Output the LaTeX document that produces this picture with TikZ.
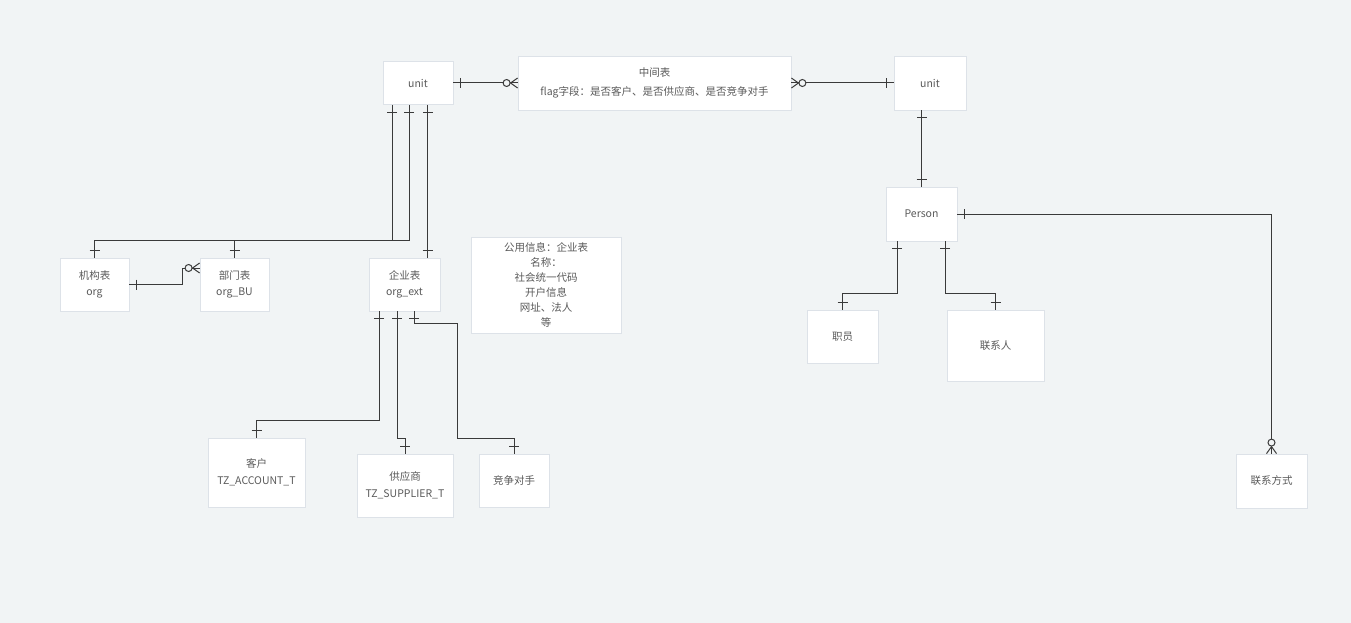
\documentclass[tikz,border=0pt]{standalone}
\usepackage{fontspec}
\setmainfont{Noto Sans CJK SC}
\usetikzlibrary{calc}
\definecolor{bg}{HTML}{F1F4F5}
\definecolor{bd}{HTML}{DDE2E8}
\definecolor{tx}{HTML}{5A5A5A}
\definecolor{ln}{HTML}{3A3A3A}
\tikzset{
  ent/.style={draw=bd, line width=0.8pt, fill=white, inner sep=0pt, align=center, text=tx, font=\fontsize{10.5}{16.5}\selectfont},
  erline/.style={draw=ln, line width=1pt},
}
\newcommand\erone[2]{%
  \coordinate (tmpP) at ($(#1)!7.5pt!(#2)$);
  \draw[erline] ($(tmpP)!5pt!90:(#2)$) -- ($(tmpP)!5pt!-90:(#2)$);}
\newcommand\ermany[2]{%
  \coordinate (tmpP) at ($(#1)!7pt!(#2)$);
  \coordinate (tmpC) at ($(#1)!11pt!(#2)$);
  \draw[erline] ($(#1)!5pt!90:(tmpP)$) -- (tmpP) -- ($(#1)!5pt!-90:(tmpP)$);
  \draw[erline, fill=bg] (tmpC) circle (3.5pt);}
\begin{document}
\begin{tikzpicture}[x=1pt,y=-1pt]
\path[fill=bg] (0,0) rectangle (1351,623);
% entities
\node[ent, minimum width=70pt, minimum height=43pt] (unitL) at (418,83) {unit};
\node[ent, minimum width=273pt, minimum height=54pt, font=\fontsize{10.5}{19}\selectfont] (mid) at (654.5,83) {中间表\\flag字段：是否客户、是否供应商、是否竞争对手};
\node[ent, minimum width=72pt, minimum height=54pt] (unitR) at (930,83) {unit};
\node[ent, minimum width=71pt, minimum height=54pt] (person) at (921.5,214) {Person};
\node[ent, minimum width=71pt, minimum height=53pt] (zhiyuan) at (842.5,336.5) {职员};
\node[ent, minimum width=97pt, minimum height=71pt] (lxr) at (995.5,345.5) {联系人};
\node[ent, minimum width=71pt, minimum height=54pt] (lxfs) at (1271.5,481) {联系方式};
\node[ent, minimum width=69pt, minimum height=53pt] (jigou) at (94.5,284.5) {机构表\\org};
\node[ent, minimum width=69pt, minimum height=53pt] (bumen) at (234.5,284.5) {部门表\\org\_BU};
\node[ent, minimum width=71pt, minimum height=53pt] (qiye) at (404.5,284.5) {企业表\\org\_ext};
\node[ent, minimum width=150pt, minimum height=96pt, font=\fontsize{10.5}{15}\selectfont] (info) at (546,285) {公用信息：企业表\\名称：\\社会统一代码\\开户信息\\网址、法人\\等};
\node[ent, minimum width=97pt, minimum height=69pt] (kehu) at (256.5,472.5) {客户\\TZ\_ACCOUNT\_T};
\node[ent, minimum width=96pt, minimum height=63pt] (gys) at (405,485.5) {供应商\\TZ\_SUPPLIER\_T};
\node[ent, minimum width=70pt, minimum height=53pt] (jz) at (514,480.5) {竞争对手};
% helper coordinates
\coordinate (xa) at (392,240);
\coordinate (xb) at (409,240);
\coordinate (xc) at (427.5,0);
\coordinate (k1) at (182,268);
\coordinate (q1) at (379,420);
\coordinate (q2) at (397,438);
\coordinate (q3) at (414,323);
\coordinate (q4) at (457,438);
\coordinate (p1) at (897,293);
\coordinate (p2) at (945,293);
% connectors
\draw[erline] (unitL.east) -- (mid.west);
\erone{unitL.east}{mid.west}
\ermany{mid.west}{unitL.east}
\draw[erline] (mid.east) -- (unitR.west);
\ermany{mid.east}{unitR.west}
\erone{unitR.west}{mid.east}
\draw[erline] (unitR.south -| person.north) -- (person.north);
\erone{unitR.south -| person.north}{person.north}
\erone{person.north}{unitR.south -| person.north}
\draw[erline] (person.east) -- (person.east -| lxfs.north) -- (lxfs.north);
\erone{person.east}{person.east -| lxfs.north}
\ermany{lxfs.north}{person.east -| lxfs.north}
\draw[erline] (person.south -| p1) -- (p1) -- (zhiyuan.north |- p1) -- (zhiyuan.north);
\erone{person.south -| p1}{p1}
\erone{zhiyuan.north}{zhiyuan.north |- p1}
\draw[erline] (person.south -| p2) -- (p2) -- (lxr.north |- p2) -- (lxr.north);
\erone{person.south -| p2}{p2}
\erone{lxr.north}{lxr.north |- p2}
\draw[erline] (unitL.south -| xa) -- (xa) -- (jigou.north |- xa) -- (jigou.north);
\erone{unitL.south -| xa}{xa}
\erone{jigou.north}{jigou.north |- xa}
\draw[erline] (unitL.south -| xb) -- (xb) -- (bumen.north |- xb) -- (bumen.north);
\erone{unitL.south -| xb}{xb}
\erone{bumen.north}{bumen.north |- xb}
\draw[erline] (unitL.south -| xc) -- (qiye.north -| xc);
\erone{unitL.south -| xc}{qiye.north -| xc}
\erone{qiye.north -| xc}{unitL.south -| xc}
\draw[erline] (jigou.east) -- (jigou.east -| k1) -- (k1) -- (bumen.west |- k1);
\erone{jigou.east}{jigou.east -| k1}
\ermany{bumen.west |- k1}{k1}
\draw[erline] (qiye.south -| q1) -- (q1) -- (kehu.north |- q1) -- (kehu.north);
\erone{qiye.south -| q1}{q1}
\erone{kehu.north}{kehu.north |- q1}
\draw[erline] (qiye.south -| q2) -- (q2) -- (gys.north |- q2) -- (gys.north);
\erone{qiye.south -| q2}{q2}
\erone{gys.north}{gys.north |- q2}
\draw[erline] (qiye.south -| q3) -- (q3) -- (q4 |- q3) -- (q4) -- (jz.north |- q4) -- (jz.north);
\erone{qiye.south -| q3}{q3}
\erone{jz.north}{jz.north |- q4}
\end{tikzpicture}
\end{document}
